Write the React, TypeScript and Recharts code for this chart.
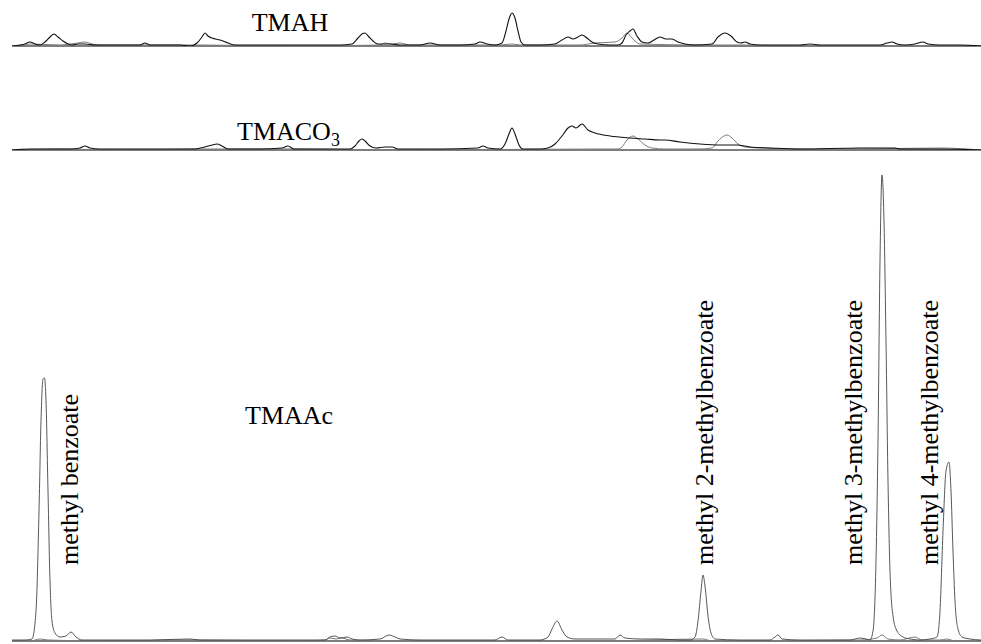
import React from "react";
import { LineChart, Line, XAxis, YAxis, ReferenceLine } from "recharts";

// x = retention (scan) position, v = detector response (panel units)
const tmahMain: [number, number][] = [
  [12, 0], [20, 1], [25, 2], [30, 4], [35, 2], [40, 1], [45, 4], [50, 9], [54, 12], [58, 9], [63, 5], [68, 2],
  [72, 1], [78, 2], [85, 2], [95, 1], [120, 1], [140, 1], [145, 3], [150, 1], [165, 1], [180, 1], [190, 0],
  [197, 3], [202, 9], [205, 13], [208, 10], [212, 8], [220, 6], [228, 3], [235, 1], [260, 1], [300, 1],
  [340, 1], [352, 2], [358, 8], [362, 12], [365, 13], [369, 9], [373, 5], [378, 2], [390, 2], [400, 1],
  [420, 1], [430, 3], [440, 1], [460, 1], [475, 2], [480, 4], [487, 2], [495, 1], [502, 3], [506, 15],
  [509, 27], [512, 33], [515, 28], [518, 15], [521, 4], [525, 1], [540, 1], [555, 2], [562, 6], [568, 9],
  [573, 7], [578, 9], [582, 11], [587, 8], [592, 4], [598, 2], [610, 1], [618, 1], [622, 3], [626, 11],
  [630, 15], [633, 17], [637, 10], [642, 4], [648, 3], [654, 6], [660, 9], [666, 7], [672, 7], [678, 4],
  [685, 2], [695, 1], [712, 2], [718, 9], [725, 13], [731, 10], [737, 4], [741, 3], [745, 4], [750, 2],
  [760, 1], [800, 1], [810, 2], [820, 1], [850, 1], [880, 1], [887, 3], [892, 4], [897, 2], [905, 1],
  [915, 2], [923, 4], [928, 2], [940, 1], [960, 1], [981, 0],
];
const tmahMinor: [number, number][] = [
  [12, 0], [25, 1], [30, 2], [60, 1], [70, 2], [78, 3], [85, 4], [92, 2], [100, 1], [200, 1], [300, 0],
  [380, 1], [385, 3], [392, 2], [400, 3], [410, 1], [470, 1], [500, 1], [512, 2], [520, 1], [580, 1],
  [595, 3], [615, 4], [622, 8], [627, 13], [632, 8], [640, 2], [700, 1], [745, 1], [800, 0], [981, 0],
];

const tmaco3Main: [number, number][] = [
  [12, 0], [30, 1], [50, 1], [70, 1], [80, 2], [85, 4], [90, 2], [100, 1], [150, 1], [195, 1], [205, 3],
  [212, 5], [217, 6], [222, 4], [228, 1], [260, 1], [282, 2], [288, 4], [294, 1], [330, 1], [350, 1],
  [355, 4], [359, 9], [362, 11], [366, 8], [370, 4], [376, 2], [385, 3], [392, 3], [398, 1], [440, 1],
  [478, 2], [483, 4], [488, 2], [500, 1], [505, 6], [509, 16], [512, 22], [515, 16], [519, 5], [523, 1],
  [540, 1], [548, 2], [555, 6], [562, 14], [568, 22], [572, 24], [576, 22], [582, 26], [588, 20],
  [595, 17], [610, 14], [630, 12], [645, 11], [660, 10], [665, 10], [680, 8], [700, 6], [720, 5],
  [737, 5], [750, 3], [770, 2], [800, 1], [860, 2], [895, 2], [900, 1], [940, 1], [981, 0],
];
const tmaco3Minor: [number, number][] = [
  [12, 0], [60, 1], [120, 0], [200, 1], [290, 1], [400, 0], [600, 1], [618, 1], [622, 3], [627, 10],
  [633, 14], [638, 11], [645, 5], [652, 2], [665, 1], [700, 1], [712, 2], [718, 9], [724, 14], [727, 15],
  [732, 12], [738, 6], [745, 3], [760, 2], [800, 1], [850, 1], [940, 2], [981, 0],
];

const tmaacMain: [number, number][] = [
  [12, 1], [25, 1], [32, 2], [36, 30], [39, 130], [41, 220], [43, 262], [44.5, 263], [46, 240], [48, 150],
  [50, 60], [52, 20], [55, 8], [60, 4], [66, 5], [71, 9], [76, 4], [82, 1], [100, 1], [150, 1], [190, 2],
  [200, 1], [250, 1], [300, 1], [325, 1], [330, 4], [335, 5], [340, 3], [347, 4], [352, 2], [360, 1],
  [380, 2], [389, 6], [395, 4], [400, 2], [420, 1], [450, 1], [480, 1], [495, 1], [502, 4], [508, 1],
  [520, 1], [540, 1], [548, 4], [552, 12], [557, 20], [562, 11], [567, 4], [575, 2], [600, 2], [615, 2],
  [620, 6], [625, 3], [640, 2], [660, 2], [680, 1], [690, 1], [695, 4], [698, 20], [701, 50], [703, 66],
  [705, 55], [708, 25], [711, 8], [715, 2], [740, 1], [770, 1], [775, 4], [778, 6], [782, 2], [800, 1],
  [840, 1], [850, 1], [855, 2], [860, 3], [866, 2], [870, 1], [873, 10], [876, 80], [878, 200],
  [880, 380], [882, 466], [884, 420], [886, 300], [888, 160], [890, 70], [893, 25], [897, 10], [903, 4],
  [910, 2], [920, 1], [930, 2], [937, 4], [940, 30], [943, 110], [946, 170], [949, 179], [951, 150],
  [953, 90], [955, 40], [958, 12], [962, 4], [970, 2], [981, 1],
];
const tmaacMinor: [number, number][] = [
  [12, 0], [30, 0], [40, 2], [48, 1], [100, 0], [190, 1], [300, 0], [325, 1], [330, 3], [336, 2],
  [342, 3], [350, 1], [400, 0], [600, 0], [703, 2], [712, 0], [860, 1], [877, 3], [882, 6], [888, 2],
  [900, 1], [915, 4], [922, 1], [940, 1], [947, 2], [955, 0], [981, 0],
];

const toRows = (pts: [number, number][]) => pts.map(([x, v]) => ({ x, v }));

const FONT = "'Liberation Serif', 'Times New Roman', serif";

type PanelProps = {
  top: number;
  height: number;
  mTop: number;
  mBottom: number;
  yMax: number;
  main: [number, number][];
  minor: [number, number][];
  mainColor: string;
  mainWidth: number;
};

function Panel({ top, height, mTop, mBottom, yMax, main, minor, mainColor, mainWidth }: PanelProps) {
  return (
    <div style={{ position: "absolute", left: 0, top, width: 981, height }}>
      <LineChart width={981} height={height} margin={{ top: mTop, bottom: mBottom, left: 12, right: 0 }}>
        <XAxis type="number" dataKey="x" domain={[12, 981]} hide allowDataOverflow />
        <YAxis type="number" domain={[0, yMax]} hide allowDataOverflow />
        <ReferenceLine y={0} stroke="#555" strokeWidth={1.6} ifOverflow="visible" />
        <Line
          data={toRows(minor)}
          dataKey="v"
          type="monotone"
          stroke="#7a7a7a"
          strokeWidth={1}
          dot={false}
          isAnimationActive={false}
        />
        <Line
          data={toRows(main)}
          dataKey="v"
          type="monotone"
          stroke={mainColor}
          strokeWidth={mainWidth}
          dot={false}
          isAnimationActive={false}
        />
      </LineChart>
    </div>
  );
}

const rotatedLabels: { text: string; x: number }[] = [
  { text: "methyl benzoate", x: 78 },
  { text: "methyl 2-methylbenzoate", x: 713 },
  { text: "methyl 3-methylbenzoate", x: 862 },
  { text: "methyl 4-methylbenzoate", x: 938 },
];

export default function App() {
  return (
    <div style={{ position: "absolute", left: 0, top: 0, width: 981, height: 644, background: "#fff", overflow: "hidden" }}>
      <Panel top={0} height={50} mTop={6} mBottom={4} yMax={40} main={tmahMain} minor={tmahMinor} mainColor="#111" mainWidth={1.1} />
      <Panel top={100} height={54} mTop={10} mBottom={4} yMax={40} main={tmaco3Main} minor={tmaco3Minor} mainColor="#111" mainWidth={1.1} />
      <Panel top={150} height={494} mTop={11} mBottom={3} yMax={480} main={tmaacMain} minor={tmaacMinor} mainColor="#444" mainWidth={0.9} />
      <svg width={981} height={644} style={{ position: "absolute", left: 0, top: 0, pointerEvents: "none" }}>
        <g fontFamily={FONT} fontSize={26} fill="#000">
          <text x={290} y={31} textAnchor="middle">TMAH</text>
          <text x={237} y={140} textAnchor="start">
            TMACO<tspan fontSize={18} dy={6}>3</tspan>
          </text>
          <text x={245} y={424} textAnchor="start">TMAAc</text>
          {rotatedLabels.map((l) => (
            <text key={l.text} transform={`translate(${l.x}, 565) rotate(-90)`} textAnchor="start">
              {l.text}
            </text>
          ))}
        </g>
      </svg>
    </div>
  );
}
